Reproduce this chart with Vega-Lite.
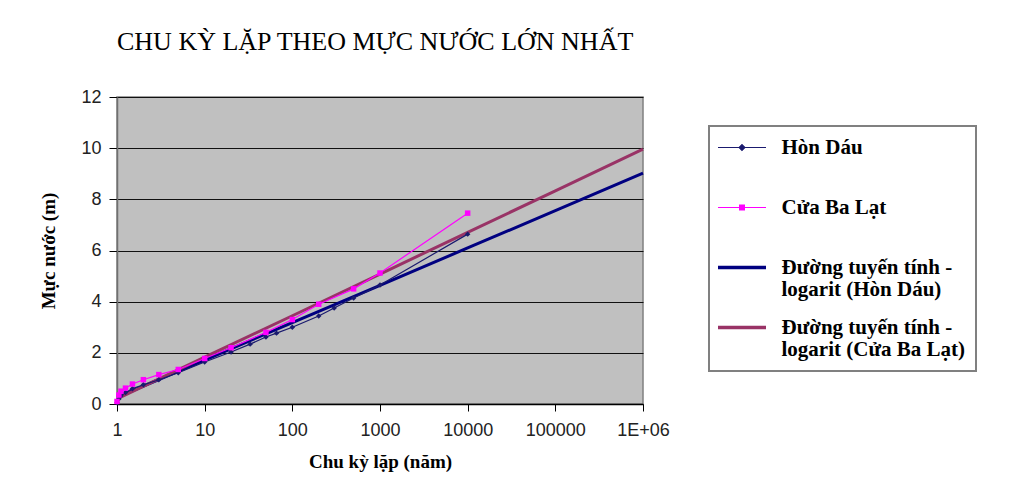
{
  "$schema": "https://vega.github.io/schema/vega-lite/v6.json",
  "width": 526,
  "height": 307,
  "autosize": "none",
  "padding": {"left": 117, "top": 97, "right": 390, "bottom": 85},
  "background": "white",
  "title": {
    "text": "CHU KỲ LẶP THEO MỰC NƯỚC LỚN NHẤT",
    "anchor": "start",
    "frame": "group",
    "font": "Liberation Serif",
    "fontSize": 26,
    "fontWeight": "normal",
    "color": "black",
    "offset": 33
  },
  "data": {
    "values": [
      {"series": "Hòn Dáu", "kind": "data", "x": 1, "y": 0.05},
      {"series": "Hòn Dáu", "kind": "data", "x": 1.05, "y": 0.2},
      {"series": "Hòn Dáu", "kind": "data", "x": 1.11, "y": 0.32},
      {"series": "Hòn Dáu", "kind": "data", "x": 1.25, "y": 0.45},
      {"series": "Hòn Dáu", "kind": "data", "x": 1.5, "y": 0.6},
      {"series": "Hòn Dáu", "kind": "data", "x": 2, "y": 0.75},
      {"series": "Hòn Dáu", "kind": "data", "x": 3, "y": 0.95},
      {"series": "Hòn Dáu", "kind": "data", "x": 5, "y": 1.22},
      {"series": "Hòn Dáu", "kind": "data", "x": 10, "y": 1.64},
      {"series": "Hòn Dáu", "kind": "data", "x": 20, "y": 2.03},
      {"series": "Hòn Dáu", "kind": "data", "x": 33, "y": 2.34},
      {"series": "Hòn Dáu", "kind": "data", "x": 50, "y": 2.62},
      {"series": "Hòn Dáu", "kind": "data", "x": 66, "y": 2.77},
      {"series": "Hòn Dáu", "kind": "data", "x": 100, "y": 3.0},
      {"series": "Hòn Dáu", "kind": "data", "x": 200, "y": 3.44},
      {"series": "Hòn Dáu", "kind": "data", "x": 300, "y": 3.75},
      {"series": "Hòn Dáu", "kind": "data", "x": 500, "y": 4.14},
      {"series": "Hòn Dáu", "kind": "data", "x": 1000, "y": 4.65},
      {"series": "Hòn Dáu", "kind": "data", "x": 10000, "y": 6.64},
      {"series": "Cửa Ba Lạt", "kind": "data", "x": 1, "y": 0.1},
      {"series": "Cửa Ba Lạt", "kind": "data", "x": 1.05, "y": 0.35},
      {"series": "Cửa Ba Lạt", "kind": "data", "x": 1.11, "y": 0.5},
      {"series": "Cửa Ba Lạt", "kind": "data", "x": 1.25, "y": 0.62},
      {"series": "Cửa Ba Lạt", "kind": "data", "x": 1.5, "y": 0.78},
      {"series": "Cửa Ba Lạt", "kind": "data", "x": 2, "y": 0.95},
      {"series": "Cửa Ba Lạt", "kind": "data", "x": 3, "y": 1.15},
      {"series": "Cửa Ba Lạt", "kind": "data", "x": 5, "y": 1.35},
      {"series": "Cửa Ba Lạt", "kind": "data", "x": 10, "y": 1.78},
      {"series": "Cửa Ba Lạt", "kind": "data", "x": 20, "y": 2.2},
      {"series": "Cửa Ba Lạt", "kind": "data", "x": 50, "y": 2.8},
      {"series": "Cửa Ba Lạt", "kind": "data", "x": 100, "y": 3.3},
      {"series": "Cửa Ba Lạt", "kind": "data", "x": 200, "y": 3.9},
      {"series": "Cửa Ba Lạt", "kind": "data", "x": 500, "y": 4.5},
      {"series": "Cửa Ba Lạt", "kind": "data", "x": 1000, "y": 5.12},
      {"series": "Cửa Ba Lạt", "kind": "data", "x": 10000, "y": 7.46},
      {"series": "Đường tuyến tính -\nlogarit (Hòn Dáu)", "kind": "trend", "x": 1, "y": 0.26},
      {"series": "Đường tuyến tính -\nlogarit (Hòn Dáu)", "kind": "trend", "x": 10, "y": 1.72},
      {"series": "Đường tuyến tính -\nlogarit (Hòn Dáu)", "kind": "trend", "x": 100, "y": 3.18},
      {"series": "Đường tuyến tính -\nlogarit (Hòn Dáu)", "kind": "trend", "x": 1000, "y": 4.64},
      {"series": "Đường tuyến tính -\nlogarit (Hòn Dáu)", "kind": "trend", "x": 10000, "y": 6.1},
      {"series": "Đường tuyến tính -\nlogarit (Hòn Dáu)", "kind": "trend", "x": 100000, "y": 7.56},
      {"series": "Đường tuyến tính -\nlogarit (Hòn Dáu)", "kind": "trend", "x": 1000000, "y": 9.02},
      {"series": "Đường tuyến tính -\nlogarit (Cửa Ba Lạt)", "kind": "trend", "x": 1, "y": 0.2},
      {"series": "Đường tuyến tính -\nlogarit (Cửa Ba Lạt)", "kind": "trend", "x": 10, "y": 1.83},
      {"series": "Đường tuyến tính -\nlogarit (Cửa Ba Lạt)", "kind": "trend", "x": 100, "y": 3.45},
      {"series": "Đường tuyến tính -\nlogarit (Cửa Ba Lạt)", "kind": "trend", "x": 1000, "y": 5.08},
      {"series": "Đường tuyến tính -\nlogarit (Cửa Ba Lạt)", "kind": "trend", "x": 10000, "y": 6.71},
      {"series": "Đường tuyến tính -\nlogarit (Cửa Ba Lạt)", "kind": "trend", "x": 100000, "y": 8.33},
      {"series": "Đường tuyến tính -\nlogarit (Cửa Ba Lạt)", "kind": "trend", "x": 1000000, "y": 9.96}
    ]
  },
  "encoding": {
    "x": {
      "field": "x",
      "type": "quantitative",
      "scale": {"type": "log", "domain": [1, 1000000], "nice": false},
      "axis": {
        "values": [1, 10, 100, 1000, 10000, 100000, 1000000],
        "labelExpr": "datum.value >= 1000000 ? '1E+06' : format(datum.value, 'd')",
        "grid": false,
        "tickSize": 7,
        "tickColor": "#000000",
        "domainColor": "#000000",
        "domainWidth": 1.5,
        "labelPadding": 10,
        "labelFont": "Liberation Sans",
        "labelFontSize": 18,
        "labelColor": "#222222",
        "labelFlush": false,
        "title": "Chu kỳ lặp (năm)",
        "titleFont": "Liberation Serif",
        "titleFontWeight": "bold",
        "titleFontSize": 19,
        "titleColor": "#000000",
        "titlePadding": 13
      }
    },
    "y": {
      "field": "y",
      "type": "quantitative",
      "scale": {"domain": [0, 12], "nice": false},
      "axis": {
        "values": [0, 2, 4, 6, 8, 10, 12],
        "grid": true,
        "gridColor": "#111111",
        "gridWidth": 1.2,
        "tickSize": 8,
        "tickColor": "#000000",
        "domainColor": "#707070",
        "domainWidth": 1.5,
        "labelPadding": 8,
        "labelFont": "Liberation Sans",
        "labelFontSize": 18,
        "labelColor": "#222222",
        "title": "Mực nước (m)",
        "titleFont": "Liberation Serif",
        "titleFontWeight": "bold",
        "titleFontSize": 19,
        "titleColor": "#000000",
        "titlePadding": 22
      }
    }
  },
  "layer": [
    {
      "transform": [{"filter": "datum.kind == 'trend'"}],
      "mark": {"type": "line", "strokeWidth": 3},
      "encoding": {
        "color": {
          "field": "series",
          "type": "nominal",
          "scale": {
            "domain": ["Hòn Dáu", "Cửa Ba Lạt", "Đường tuyến tính -\nlogarit (Hòn Dáu)", "Đường tuyến tính -\nlogarit (Cửa Ba Lạt)"],
            "range": ["#1a1a6e", "#ff00ff", "#000080", "#993366"]
          },
          "legend": {
            "orient": "none",
            "legendX": 592,
            "legendY": 29,
            "title": null,
            "padding": 11,
            "strokeColor": "#808080",
            "fillColor": "white",
            "labelFont": "Liberation Serif",
            "labelFontWeight": "bold",
            "labelFontSize": 21,
            "labelColor": "#000000",
            "labelLimit": 400,
            "labelOffset": 29,
            "symbolOffset": 11.5,
            "rowPadding": 16,
            "gridAlign": "all",
            "symbolType": "stroke",
            "symbolSize": 2304,
            "symbolStrokeWidth": 3,
            "labelExpr": "split(datum.label, '\\n')",
            "encode": {
              "legend": {"update": {"strokeWidth": {"value": 2}}},
              "symbols": {
                "update": {
                  "shape": {"signal": "datum.value == 'Hòn Dáu' ? 'M-1,0H1M0,-0.12L0.12,0L0,0.12L-0.12,0Z' : datum.value == 'Cửa Ba Lạt' ? 'M-1,0H1M-0.1,-0.1H0.1V0.1H-0.1Z' : 'M-1,0H1'"},
                  "fill": {"signal": "datum.value == 'Hòn Dáu' ? '#1a1a6e' : datum.value == 'Cửa Ba Lạt' ? '#ff00ff' : 'transparent'"},
                  "strokeWidth": {"signal": "datum.value == 'Hòn Dáu' || datum.value == 'Cửa Ba Lạt' ? 1.2 : 3.5"},
                  "size": {"value": 2304}
                }
              },
              "labels": {"update": {"lineHeight": {"value": 22}}}
            }
          }
        }
      }
    },
    {
      "transform": [{"filter": "datum.kind == 'data'"}],
      "mark": {"type": "line", "strokeWidth": 1.2},
      "encoding": {
        "color": {"field": "series", "type": "nominal"}
      }
    },
    {
      "transform": [{"filter": "datum.kind == 'data'"}],
      "mark": {"type": "point", "filled": true, "opacity": 1, "size": 30},
      "encoding": {
        "color": {"field": "series", "type": "nominal"},
        "shape": {
          "field": "series",
          "type": "nominal",
          "scale": {"domain": ["Hòn Dáu", "Cửa Ba Lạt"], "range": ["diamond", "square"]},
          "legend": null
        }
      }
    }
  ],
  "config": {
    "view": {"fill": "#c0c0c0", "stroke": "#808080", "strokeWidth": 1.5}
  }
}
